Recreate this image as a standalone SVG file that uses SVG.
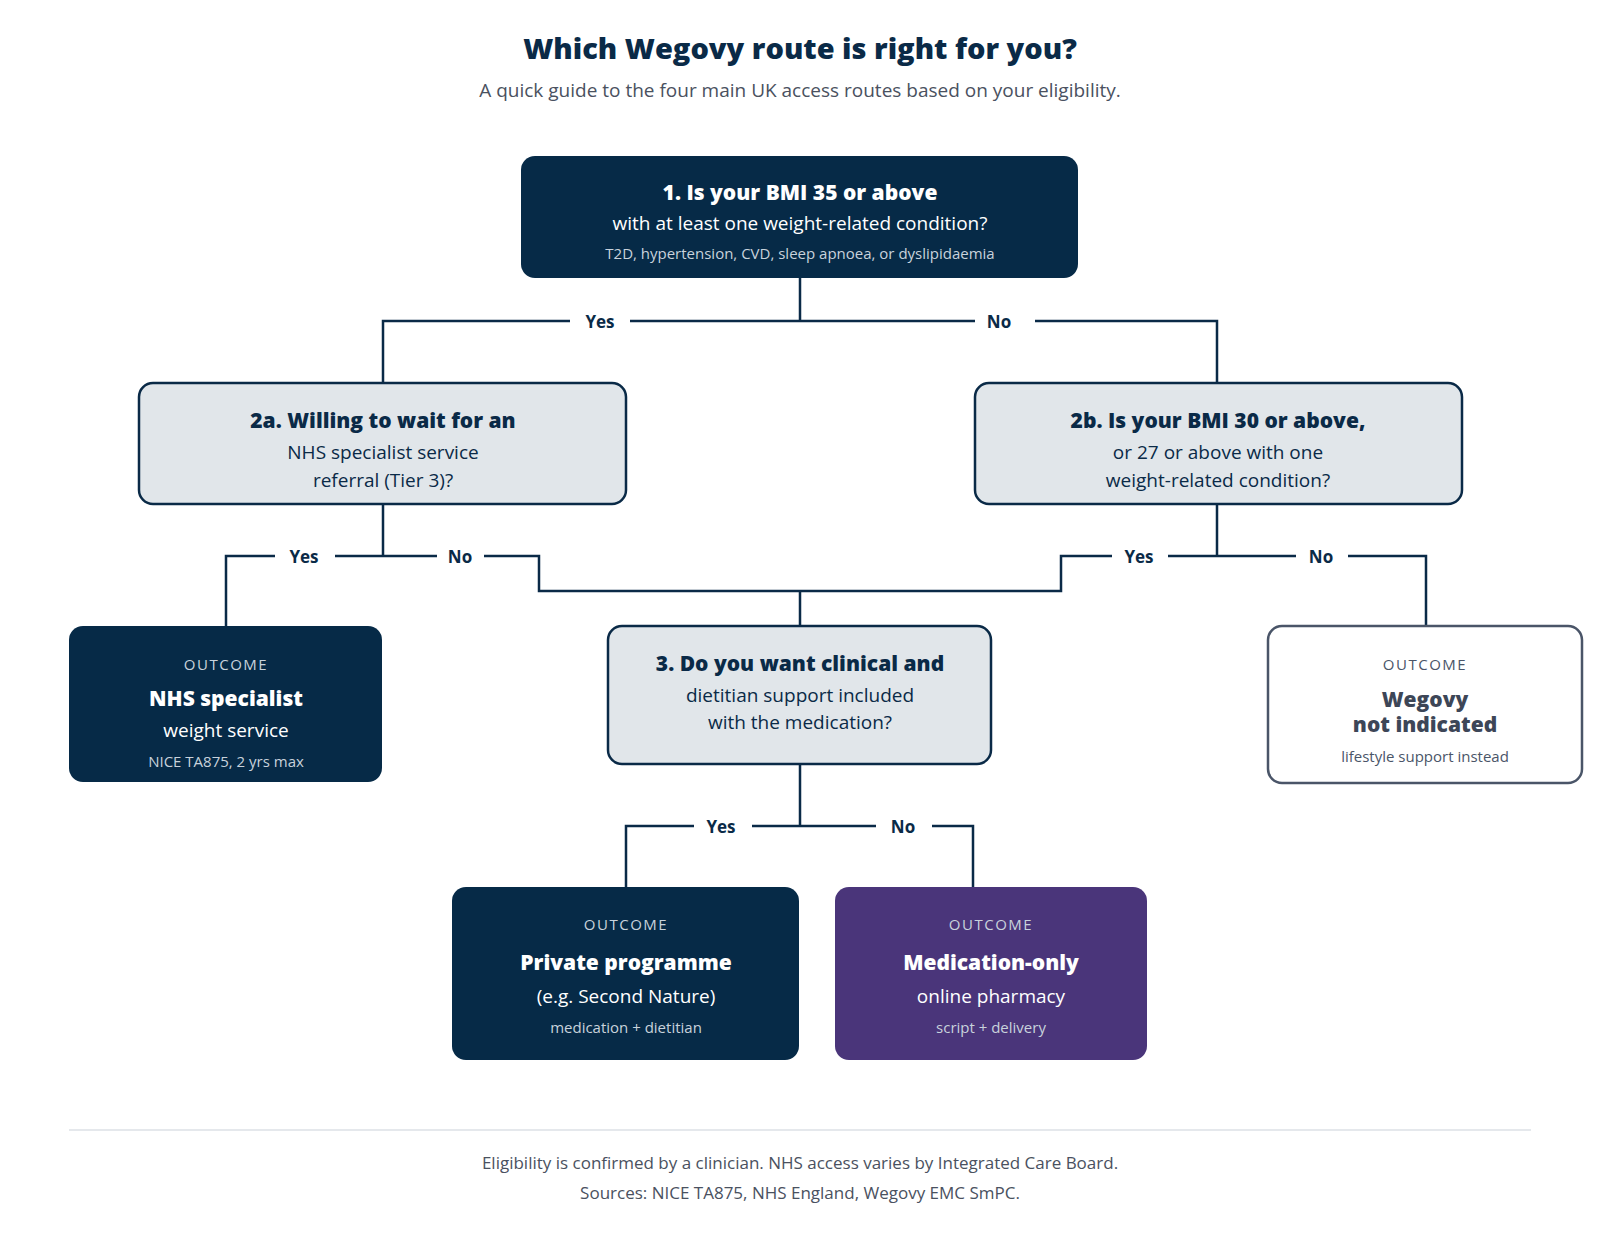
<svg xmlns="http://www.w3.org/2000/svg" width="1600" height="1252" viewBox="0 0 1600 1252">
<style>
text{font-family:"Open Sans",Lato,"Liberation Sans",sans-serif;text-anchor:middle}
.t{font-size:29px;font-weight:800;fill:#0a2a47}
.sub{font-size:19px;fill:#4a5160}
.line{fill:none;stroke:#0a2a47;stroke-width:2.5}
.lab{font-size:17px;font-weight:700;fill:#0a2a47}
.dark{fill:#062a47}
.light{fill:#e1e6ea;stroke:#0a2a47;stroke-width:2.5}
.h{font-size:21px;font-weight:800}
.b{font-size:19px}
.s{font-size:15px}
.oc{font-size:15px;letter-spacing:1.5px}
.w{fill:#fff}
.n{fill:#0a2a47}
.m{fill:#c8d2dc}
.foot{font-size:17px;fill:#4a5160}
</style>
<text class="t" x="800" y="59">Which Wegovy route is right for you?</text>
<text class="sub" x="800" y="97">A quick guide to the four main UK access routes based on your eligibility.</text>
<g id="connectors">
<path class="line" d="M800 278V321M383 383V321H570M630 321H975M1035 321H1217V383"/>
<path class="line" d="M383 504V556M226 626V556H275M335 556H437M484 556H539V591H1061V556H1112M1168 556H1296M1348 556H1426V626M1217 504V556M800 591V626"/>
<path class="line" d="M800 764V826M626 887V826H694M752 826H876M932 826H973V887"/>
<text class="lab" x="600" y="328">Yes</text>
<text class="lab" x="999" y="328">No</text>
<text class="lab" x="304" y="563">Yes</text>
<text class="lab" x="460" y="563">No</text>
<text class="lab" x="1139" y="563">Yes</text>
<text class="lab" x="1321" y="563">No</text>
<text class="lab" x="721" y="833">Yes</text>
<text class="lab" x="903" y="833">No</text>
</g>
<g id="q1"><rect class="dark" x="521" y="156" width="557" height="122" rx="14"/>
<text class="h w" x="800" y="200">1. Is your BMI 35 or above</text>
<text class="b w" x="800" y="230">with at least one weight-related condition?</text>
<text class="s m" x="800" y="259">T2D, hypertension, CVD, sleep apnoea, or dyslipidaemia</text></g>
<g id="q2a"><rect class="light" x="139" y="383" width="487" height="121" rx="14"/>
<text class="h n" x="383" y="428">2a. Willing to wait for an</text>
<text class="b n" x="383" y="459">NHS specialist service</text>
<text class="b n" x="383" y="487">referral (Tier 3)?</text></g>
<g id="q2b"><rect class="light" x="975" y="383" width="487" height="121" rx="14"/>
<text class="h n" x="1218" y="428">2b. Is your BMI 30 or above,</text>
<text class="b n" x="1218" y="459">or 27 or above with one</text>
<text class="b n" x="1218" y="487">weight-related condition?</text></g>
<g id="o-nhs"><rect class="dark" x="69" y="626" width="313" height="156" rx="14"/>
<text class="oc m" x="226" y="670">OUTCOME</text>
<text class="h w" x="226" y="706">NHS specialist</text>
<text class="b w" x="226" y="737">weight service</text>
<text class="s m" x="226" y="767">NICE TA875, 2 yrs max</text></g>
<g id="q3"><rect class="light" x="608" y="626" width="383" height="138" rx="14"/>
<text class="h n" x="800" y="671">3. Do you want clinical and</text>
<text class="b n" x="800" y="702">dietitian support included</text>
<text class="b n" x="800" y="729">with the medication?</text></g>
<g id="o-not"><rect x="1268" y="626" width="314" height="157" rx="14" fill="#fff" stroke="#4a5568" stroke-width="2.5"/>
<text class="oc" x="1425" y="670" fill="#4a5568">OUTCOME</text>
<text class="h" x="1425" y="707" fill="#3d4657">Wegovy</text>
<text class="h" x="1425" y="732" fill="#3d4657">not indicated</text>
<text class="s" x="1425" y="762" fill="#4a5568">lifestyle support instead</text></g>
<g id="o-private"><rect class="dark" x="452" y="887" width="347" height="173" rx="14"/>
<text class="oc m" x="626" y="930">OUTCOME</text>
<text class="h w" x="626" y="970" font-size="23">Private programme</text>
<text class="b w" x="626" y="1003">(e.g. Second Nature)</text>
<text class="s m" x="626" y="1033">medication + dietitian</text></g>
<g id="o-med"><rect x="835" y="887" width="312" height="173" rx="14" fill="#4a357a"/>
<text class="oc m" x="991" y="930">OUTCOME</text>
<text class="h w" x="991" y="970" font-size="23">Medication-only</text>
<text class="b w" x="991" y="1003">online pharmacy</text>
<text class="s m" x="991" y="1033">script + delivery</text></g>
<line x1="69" y1="1130" x2="1531" y2="1130" stroke="#dde1e6" stroke-width="1.5"/>
<text class="foot" x="800" y="1169">Eligibility is confirmed by a clinician. NHS access varies by Integrated Care Board.</text>
<text class="foot" x="800" y="1199">Sources: NICE TA875, NHS England, Wegovy EMC SmPC.</text>
</svg>
